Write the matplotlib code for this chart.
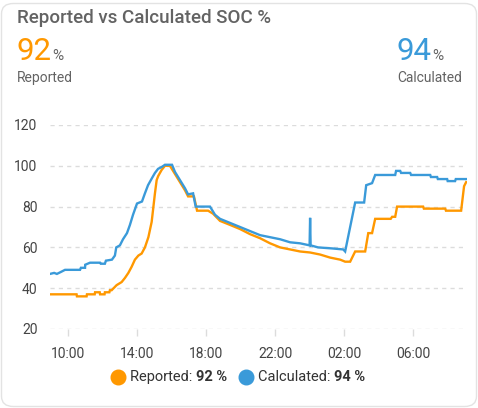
import matplotlib
matplotlib.use("Agg")
import matplotlib.pyplot as plt
from matplotlib.patches import FancyBboxPatch
from matplotlib.lines import Line2D

plt.rcParams['font.family'] = ['Roboto', 'DejaVu Sans']

# ---- data: line vertices (hours since midnight of day 1; >24 = next day) ----
reported_t = [8.96, 10.50, 10.52, 11.08, 11.10, 11.55, 11.57, 11.84, 11.86, 12.12,
              12.14, 12.40, 12.43, 12.53, 12.82, 13.11, 13.30, 13.50, 13.69, 13.88,
              14.08, 14.27, 14.46, 14.66, 14.85, 15.04, 15.14, 15.23, 15.43, 15.62,
              15.91, 16.20, 16.49, 16.78, 16.96, 17.30, 17.48, 18.12, 18.41, 18.81,
              19.40, 19.97, 20.55, 21.13, 21.71, 22.29, 22.87, 23.45, 24.03, 24.61,
              25.19, 25.77, 26.06, 26.35, 26.64, 27.22, 27.40, 27.62, 27.80, 28.70,
              28.78, 28.96, 29.07, 30.58, 30.62, 31.86, 31.90, 32.78, 32.95, 33.07]
reported_v = [37, 37, 36, 36, 37, 37, 38, 38, 37, 37,
              38, 38, 39, 39, 41.5, 43, 45, 47.5, 50.5, 54,
              56, 57, 60, 65, 72.5, 86.5, 93, 95, 98, 100,
              100, 96, 92, 88, 85, 85, 78, 78, 76.5, 73,
              71, 69, 66.5, 64.5, 62, 60, 59, 58, 57.5, 56.5,
              55, 54, 53, 53, 58, 58, 67, 67, 74, 74,
              75, 75, 80, 80, 79, 79, 78, 78, 90, 92]

calculated_t = [8.96, 9.20, 9.36, 9.60, 9.83, 10.70, 10.75, 10.99, 11.00, 11.28,
                11.86, 11.90, 12.14, 12.20, 12.55, 12.72, 12.80, 13.01, 13.19, 13.42,
                13.59, 13.77, 14.00, 14.29, 14.46, 14.64, 14.87, 15.04, 15.22, 15.45,
                15.62, 16.03, 16.20, 16.49, 16.78, 16.96, 17.25, 17.40, 18.23, 18.52,
                18.81, 19.10, 19.97, 20.55, 21.13, 21.71, 22.29, 22.87, 23.45, 24.00,
                24.03, 24.06, 24.49, 25.30, 25.95, 26.06, 26.64, 27.16, 27.28, 27.62,
                27.80, 28.96, 29.01, 29.25, 29.30, 29.83, 29.88, 30.99, 31.03, 31.39,
                31.43, 31.97, 32.00, 32.43, 32.47, 33.10]
calculated_v = [47, 47.5, 47, 48, 49, 49, 50, 50, 51.5, 52.5,
                52.5, 52, 52, 53.5, 54, 56, 60, 61, 64, 67,
                71, 76, 81.5, 82.5, 86.5, 90.5, 94, 96.5, 98.5, 99.5,
                100.5, 100.5, 97, 93, 89, 86, 86.5, 80, 80, 76,
                74, 73, 70, 68, 66, 65, 64, 62.5, 62, 61,
                74.5, 61, 60, 59.5, 59, 58, 82, 82, 90.5, 91.5,
                95.5, 95.5, 97.5, 97.5, 96.5, 96.5, 95.5, 95.5, 94.5, 94.5,
                93.5, 93.5, 92.5, 92.5, 93.5, 93.5]

y_ticks = [20, 40, 60, 80, 100, 120]
x_ticks = [10, 14, 18, 22, 26, 30]
x_tick_labels = ["10:00", "14:00", "18:00", "22:00", "02:00", "06:00"]

reported_now = 92
calculated_now = 94

ORANGE = "#ff9800"
BLUE = "#3a9ad9"
GREY_TXT = "#636363"

W, H = 478, 408
fig = plt.figure(figsize=(W / 100, H / 100), dpi=100)

# card
card = FancyBboxPatch((1.5 / W, 1.5 / H), (W - 3) / W, (H - 5) / H,
                      boxstyle="round,pad=0,rounding_size=0.025",
                      transform=fig.transFigure, facecolor="white",
                      edgecolor="#e3e3e3", linewidth=1.0, zorder=-10)
fig.patches.append(card)

ax = fig.add_axes([50 / W, 1 - 329 / H, (467 - 50) / W, (329 - 125) / H])
ax.set_facecolor("none")
ax.set_zorder(2)

ax.plot(reported_t, reported_v, color=ORANGE, lw=1.7,
        solid_joinstyle="miter", zorder=3)
ax.plot(calculated_t, calculated_v, color=BLUE, lw=1.7,
        solid_joinstyle="miter", zorder=4)

ax.set_xlim(8.96, 33.12)
ax.set_ylim(20, 120)
ax.set_yticks(y_ticks)
ax.set_xticks(x_ticks)
ax.set_xticklabels(x_tick_labels)
for s in ax.spines.values():
    s.set_visible(False)
ax.grid(axis="y", color="#dcdcdc", linestyle=(0, (3, 3)), linewidth=1.0)
ax.tick_params(axis="y", length=0, pad=9, labelsize=10, labelcolor="#444444")
ax.tick_params(axis="x", length=5, width=1, color="#dcdcdc", pad=8,
               labelsize=10, labelcolor="#444444")

# header texts
fig.text(17 / W, 1 - 18 / H, "Reported vs Calculated SOC %", fontsize=13.5,
         fontweight="medium", color=GREY_TXT, va="center", ha="left")
t1 = fig.text(16 / W, 1 - 60 / H, f"{reported_now}", fontsize=22.5, color=ORANGE,
              va="baseline", ha="left")
fig.canvas.draw()
bb = t1.get_window_extent()
fig.text((bb.x1 + 1) / W, 1 - 60 / H, "%", fontsize=11, color=GREY_TXT,
         va="baseline", ha="left")
fig.text(17 / W, 1 - 78 / H, "Reported", fontsize=10, color=GREY_TXT,
         va="center", ha="left")

t2 = fig.text(396 / W, 1 - 60 / H, f"{calculated_now}", fontsize=22.5, color=BLUE,
              va="baseline", ha="left")
fig.canvas.draw()
bb2 = t2.get_window_extent()
fig.text((bb2.x1 + 1) / W, 1 - 60 / H, "%", fontsize=11, color=GREY_TXT,
         va="baseline", ha="left")
fig.text(397 / W, 1 - 78 / H, "Calculated", fontsize=10, color=GREY_TXT,
         va="center", ha="left")

# legend
ly = 1 - 377 / H
fig.add_artist(Line2D([118 / W], [ly], marker="o", markersize=10.5, color=ORANGE,
                      transform=fig.transFigure, linestyle="none"))
a = fig.text(130 / W, ly, "Reported: ", fontsize=10.5, color="#333333",
             va="center", ha="left")
fig.canvas.draw()
ab = a.get_window_extent()
fig.text(ab.x1 / W, ly, f"{reported_now} %", fontsize=10.5, color="#333333",
         fontweight="bold", va="center", ha="left")
fig.add_artist(Line2D([246 / W], [ly], marker="o", markersize=10.5, color=BLUE,
                      transform=fig.transFigure, linestyle="none"))
b = fig.text(258 / W, ly, "Calculated: ", fontsize=10.5, color="#333333",
             va="center", ha="left")
fig.canvas.draw()
bbb = b.get_window_extent()
fig.text(bbb.x1 / W, ly, f"{calculated_now} %", fontsize=10.5, color="#333333",
         fontweight="bold", va="center", ha="left")

fig.savefig("out.png", dpi=100, facecolor="white")
